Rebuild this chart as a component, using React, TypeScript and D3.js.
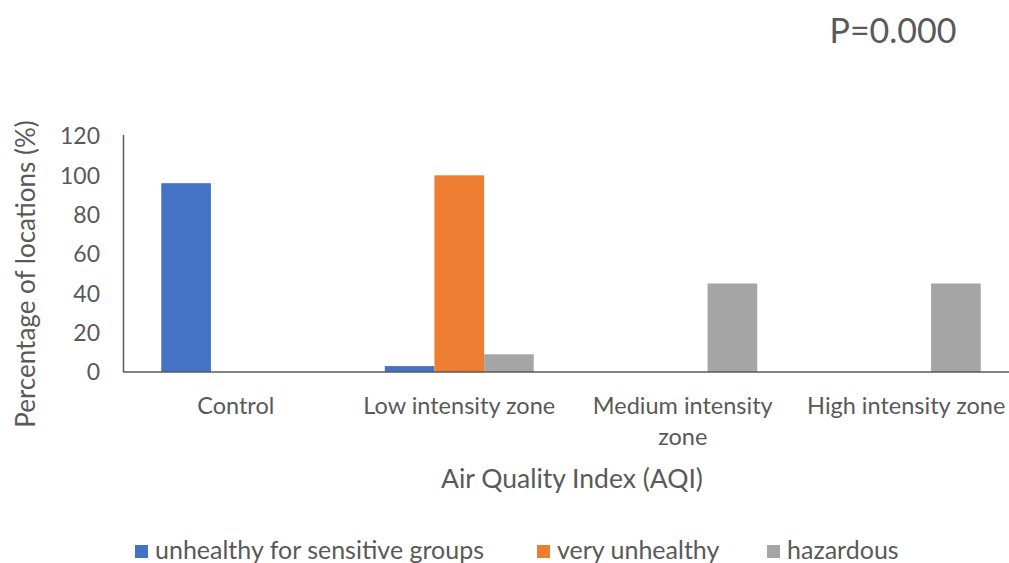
import React from "react";
import * as d3 from "d3";

const categories = [["Control"], ["Low intensity zone"], ["Medium intensity", "zone"], ["High intensity zone"]];
const seriesNames = ["unhealthy for sensitive groups", "very unhealthy", "hazardous"];
const sensitive = [96, 3, 0, 0];
const veryUnhealthy = [0, 100, 0, 0];
const hazardous = [0, 9, 45, 45];
const yTicks = [0, 20, 40, 60, 80, 100, 120];
const colors = ["#4472C4", "#ED7D31", "#A5A5A5"];

const W = 1009;
const H = 563;
const FONT = "Lato, 'Open Sans', sans-serif";
const TEXT = "#595959";

export default function App() {
  const series = [sensitive, veryUnhealthy, hazardous];
  const keys = categories.map((c) => c.join(" "));
  const x = d3.scaleBand<string>().domain(keys).range([124, 1018]).padding(0);
  const inner = d3
    .scaleBand<number>()
    .domain([0, 1, 2])
    .range([x.bandwidth() * 0.1667, x.bandwidth() * 0.8333]);
  const y = d3.scaleLinear().domain([0, 120]).range([372, 136]);

  const legendX = [135, 537, 767];

  return (
    <svg
      width={W}
      height={H}
      style={{ position: "absolute", left: 0, top: 0, background: "#fff" }}
      fontFamily={FONT}
    >
      <text x={893} y={43} fontSize={34} fill={TEXT} textAnchor="middle">
        P=0.000
      </text>

      {/* bars */}
      {keys.map((k, ci) =>
        series.map((vals, si) =>
          vals[ci] > 0 ? (
            <rect
              key={k + si}
              x={(x(k) as number) + (inner(si) as number)}
              y={y(vals[ci])}
              width={inner.bandwidth()}
              height={y(0) - y(vals[ci])}
              fill={colors[si]}
            />
          ) : null
        )
      )}

      {/* axes */}
      <line x1={123.5} x2={123.5} y1={135} y2={372} stroke="#595959" strokeWidth={1.5} />
      <line x1={123} x2={W} y1={372} y2={372} stroke="#595959" strokeWidth={1.5} />

      {yTicks.map((t) => (
        <text key={t} x={100} y={y(t)} dy="0.36em" fontSize={23} fill={TEXT} textAnchor="end">
          {t}
        </text>
      ))}

      {categories.map((lines, ci) => (
        <text
          key={ci}
          x={(x(keys[ci]) as number) + x.bandwidth() / 2}
          y={414}
          fontSize={23.5}
          fill={TEXT}
          textAnchor="middle"
        >
          {lines.map((l, li) => (
            <tspan key={li} x={(x(keys[ci]) as number) + x.bandwidth() / 2} dy={li === 0 ? 0 : 31}>
              {l}
            </tspan>
          ))}
        </text>
      ))}

      <text x={572} y={488} fontSize={26.5} fill={TEXT} textAnchor="middle">
        Air Quality Index (AQI)
      </text>
      <text
        transform="translate(35,274) rotate(-90)"
        fontSize={26}
        fill={TEXT}
        textAnchor="middle"
      >
        Percentage of locations (%)
      </text>

      {seriesNames.map((n, i) => (
        <g key={n}>
          <rect x={legendX[i]} y={545} width={13} height={13} fill={colors[i]} />
          <text x={legendX[i] + 20} y={559} fontSize={25} fill={TEXT}>
            {n}
          </text>
        </g>
      ))}
    </svg>
  );
}
